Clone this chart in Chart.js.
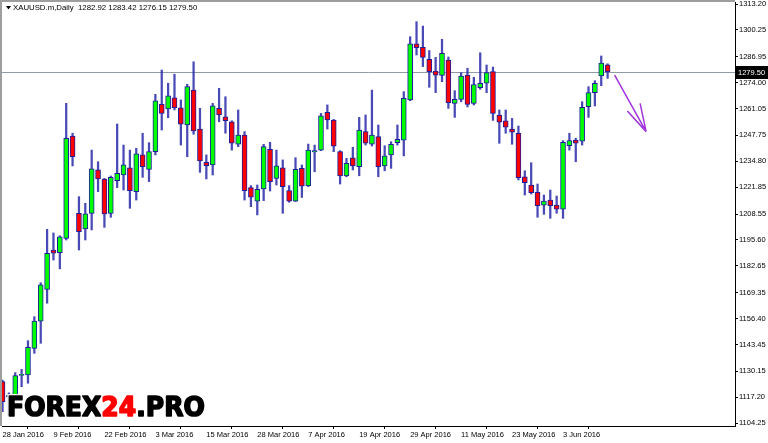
<!DOCTYPE html>
<html>
<head>
<meta charset="utf-8">
<script src="https://cdn.jsdelivr.net/npm/chart.js@4/dist/chart.umd.min.js"></script>
<style>
  html,body{margin:0;padding:0;background:#fff;}
  #wrap{width:768px;height:443px;position:relative;}
</style>
</head>
<body>
<div id="wrap"><canvas id="chart" width="768" height="443"></canvas></div>
<script>
// XAUUSD daily candles
const symbol = 'XAUUSD.m,Daily';
const opens  = [1125.0,1117.4,1115.9,1128.1,1128.3,1141.6,1155.2,1171.0,1190.6,1189.3,1196.4,1247.4,1208.9,1201.1,1208.9,1230.5,1226.0,1208.9,1225.1,1228.0,
                 1231.6,1219.7,1238.0,1230.8,1239.6,1263.2,1260.9,1266.5,1261.5,1252.9,1270.3,1250.9,1234.3,1233.0,1261.2,1257.0,1254.5,1243.4,1247.9,1221.7,
                 1215.0,1221.0,1240.8,1226.3,1231.6,1220.2,1215.0,1231.3,1222.5,1239.5,1240.4,1259.2,1255.4,1239.6,1227.5,1236.6,1232.1,1249.6,1243.3,1247.1,
                 1232.5,1238.0,1244.1,1245.4,1265.4,1293.3,1291.6,1285.6,1279.8,1277.6,1285.3,1263.7,1265.7,1277.8,1263.7,1271.5,1273.7,1279.5,1257.9,1255.0,
                 1250.9,1248.8,1227.1,1223.0,1219.4,1213.0,1215.5,1213.0,1210.9,1242.6,1245.4,1244.9,1262.0,1269.0,1277.3,1282.92];
const highs  = [1125.8,1119.4,1129.5,1131.1,1145.4,1157.4,1174.3,1200.9,1199.1,1197.7,1263.7,1248.8,1217.2,1213.9,1240.4,1234.6,1226.3,1227.5,1253.4,1242.9,
                 1240.4,1241.3,1248.8,1244.1,1268.2,1280.3,1273.7,1278.2,1265.4,1273.2,1284.4,1261.2,1238.0,1263.7,1271.2,1267.0,1255.0,1260.4,1249.6,1222.7,
                 1223.0,1243.3,1244.3,1240.4,1235.5,1222.7,1236.6,1233.0,1243.4,1242.9,1258.7,1262.9,1255.7,1240.1,1236.3,1241.8,1256.7,1257.9,1270.3,1252.9,
                 1242.6,1244.6,1252.9,1269.5,1296.9,1304.4,1302.2,1290.0,1286.6,1295.6,1286.8,1270.0,1279.0,1281.2,1276.7,1288.9,1282.8,1281.8,1260.4,1260.4,
                 1256.2,1252.4,1230.1,1234.1,1223.5,1218.0,1220.5,1217.5,1245.1,1248.8,1246.3,1264.5,1272.0,1275.0,1287.3,1283.42];
const lows   = [1110.0,1107.9,1113.9,1122.5,1124.2,1139.1,1144.1,1164.1,1185.6,1181.2,1195.6,1232.5,1190.6,1195.6,1200.6,1219.7,1201.9,1206.9,1221.7,1220.5,
                 1211.4,1215.5,1226.8,1224.7,1238.0,1250.4,1256.5,1260.4,1242.9,1237.1,1248.3,1229.3,1226.0,1228.0,1254.5,1248.8,1240.4,1242.1,1215.5,1212.2,
                 1208.1,1215.2,1220.0,1223.0,1208.9,1214.4,1214.7,1216.8,1222.2,1229.6,1240.1,1250.9,1239.6,1223.5,1227.1,1230.5,1227.6,1242.9,1242.4,1227.1,
                 1230.1,1231.3,1242.9,1237.5,1265.0,1287.8,1282.0,1271.7,1269.0,1274.5,1261.2,1256.7,1264.5,1261.9,1262.9,1270.7,1269.0,1255.2,1243.8,1248.8,
                 1243.3,1225.5,1218.0,1218.5,1206.9,1208.4,1206.4,1208.9,1206.4,1240.4,1234.6,1242.9,1256.7,1262.4,1272.5,1276.15];
const closes = [1114.9,1118.1,1128.0,1128.5,1142.1,1155.2,1173.2,1189.0,1189.0,1197.2,1246.3,1237.1,1199.7,1208.6,1231.0,1226.0,1208.6,1226.8,1228.8,1233.0,
                 1220.2,1238.5,1232.1,1239.6,1264.9,1258.7,1267.4,1261.5,1253.3,1272.0,1249.9,1235.0,1232.6,1262.4,1257.9,1255.0,1243.8,1247.9,1220.2,1216.9,
                 1220.9,1242.1,1224.7,1232.5,1222.2,1215.0,1230.8,1222.4,1240.4,1240.1,1257.5,1255.4,1242.4,1227.5,1233.8,1232.5,1250.4,1243.8,1247.9,1232.1,
                 1237.6,1243.3,1245.8,1266.2,1293.3,1291.5,1286.6,1279.5,1277.7,1288.6,1264.0,1265.7,1277.3,1263.2,1273.0,1273.7,1279.0,1258.7,1254.3,1251.8,
                 1249.3,1226.6,1224.2,1219.2,1212.7,1215.0,1212.7,1210.9,1244.3,1245.1,1243.8,1261.7,1269.0,1273.7,1283.7,1279.50];

// one date label every 8 bars
const dateLabels = ['28 Jan 2016','9 Feb 2016','22 Feb 2016','3 Mar 2016','15 Mar 2016','28 Mar 2016',
                    '7 Apr 2016','19 Apr 2016','29 Apr 2016','11 May 2016','23 May 2016','3 Jun 2016'];
const dateStep = 8;
const priceTicks = [1313.20,1300.25,1286.95,1274.00,1261.05,1247.75,1234.80,1221.85,1208.55,
                    1195.60,1182.65,1169.35,1156.40,1143.45,1130.15,1117.20,1104.25];

// hand drawn forecast arrow, in bar index / price
const arrowLine = [[96.1,1277.8],[101.05,1249.6]];
const arrowHead = [[98.1,1259.9],[100.1,1263.7]];

const bodies = opens.map((o,i)=>{
  let c = closes[i];
  if (Math.abs(c-o) < 0.6) c = o + (c>=o ? 0.6 : -0.6);
  return {x:i, y:[o,c]};
});
const wicks = highs.map((h,i)=>({x:i, y:[lows[i],h]}));
const bodyColors = opens.map((o,i)=> closes[i] >= o ? '#00ff00' : '#ff0000');
const lastClose = closes[closes.length-1];
const tickFont = '"Liberation Sans", Arial, sans-serif';

const mtPlugin = {
  id:'mt',
  beforeDatasetsDraw(chart){
    const {ctx, chartArea:a, scales:{y}} = chart;
    const py = Math.round(y.getPixelForValue(lastClose)) + 0.5;
    ctx.save();
    ctx.strokeStyle = '#8f9ba6';
    ctx.lineWidth = 1;
    ctx.beginPath(); ctx.moveTo(a.left, py); ctx.lineTo(a.right, py); ctx.stroke();
    ctx.restore();
  },
  afterDraw(chart){
    const {ctx, chartArea:a, scales:{x,y}} = chart;
    ctx.save();
    // frame
    ctx.fillStyle = '#9e9e9e';
    ctx.fillRect(0, 0, a.right, 2);
    ctx.fillRect(0, 0, 2, a.bottom);

    // arrow
    ctx.strokeStyle = '#a035dc';
    ctx.lineWidth = 1.5;
    const tip = [x.getPixelForValue(arrowLine[1][0]), y.getPixelForValue(arrowLine[1][1])];
    ctx.beginPath();
    ctx.moveTo(x.getPixelForValue(arrowLine[0][0]), y.getPixelForValue(arrowLine[0][1]));
    ctx.lineTo(tip[0], tip[1]);
    arrowHead.forEach(p=>{
      ctx.moveTo(x.getPixelForValue(p[0]), y.getPixelForValue(p[1]));
      ctx.lineTo(tip[0], tip[1]);
    });
    ctx.stroke();

    // current price label
    const py = Math.round(y.getPixelForValue(lastClose));
    ctx.fillStyle = '#000';
    ctx.fillRect(a.right, py-6, chart.width - a.right, 13);
    ctx.fillStyle = '#fff';
    ctx.font = '7.5px ' + tickFont;
    ctx.textBaseline = 'middle';
    ctx.fillText(lastClose.toFixed(2), a.right + 3, py + 0.5);

    // header
    ctx.fillStyle = '#000';
    ctx.beginPath();
    ctx.moveTo(6, 6); ctx.lineTo(11, 6); ctx.lineTo(8.5, 9.5); ctx.closePath(); ctx.fill();
    const n = opens.length-1;
    ctx.font = '7.8px ' + tickFont;
    ctx.fillText(symbol + '  ' + [opens[n],highs[n],lows[n],closes[n]].map(v=>v.toFixed(2)).join(' '), 13, 8);

    // watermark
    ctx.translate(7, 416);
    ctx.scale(0.93, 1);
    ctx.font = 'bold 27px "DejaVu Sans", sans-serif';
    ctx.textBaseline = 'alphabetic';
    ctx.lineJoin = 'round';
    let tx = 0;
    [['FOREX','#000'],['24','#ff0000'],['.PRO','#000']].forEach(([t,col])=>{
      ctx.strokeStyle = '#fff'; ctx.lineWidth = 4;
      ctx.strokeText(t, tx, 0);
      ctx.strokeStyle = col; ctx.lineWidth = 1.6;
      ctx.strokeText(t, tx, 0);
      ctx.fillStyle = col;
      ctx.fillText(t, tx, 0);
      tx += ctx.measureText(t).width;
    });
    ctx.restore();
  }
};

new Chart(document.getElementById('chart'), {
  type:'bar',
  data:{
    datasets:[
      {label:'wick', data:wicks, backgroundColor:'rgba(42,42,170,0.85)', barThickness:1.6, grouped:false, order:2},
      {label:'body', data:bodies, backgroundColor:bodyColors, borderColor:'#1e1e9c', borderWidth:1,
       borderSkipped:false, barThickness:5, grouped:false, order:1}
    ]
  },
  options:{
    responsive:false,
    animation:false,
    layout:{padding:{top:2,left:2,right:0,bottom:0}},
    plugins:{legend:{display:false}, tooltip:{enabled:false}},
    scales:{
      x:{
        type:'linear', offset:false, min:-0.08, max:115.0,
        grid:{drawOnChartArea:false, color:'#000', tickLength:3},
        border:{display:true, color:'#000'},
        afterBuildTicks(s){ s.ticks = dateLabels.map((_,k)=>({value:k*dateStep})); },
        afterFit(s){ s.height = 17; s.paddingLeft = 0; s.paddingRight = 0; },
        ticks:{autoSkip:false, maxRotation:0, align:'start', padding:1, color:'#000',
               font:{family:tickFont, size:7.5},
               callback:(v)=> dateLabels[Math.round(v/dateStep)] || ''}
      },
      y:{
        position:'right', min:1102.9, max:1314.2,
        grid:{drawOnChartArea:false, color:'#000', tickLength:3},
        border:{display:true, color:'#000'},
        afterBuildTicks(s){ s.ticks = priceTicks.map(v=>({value:v})); },
        afterFit(s){ s.width = 33; s.paddingTop = 0; s.paddingBottom = 0; },
        ticks:{padding:1, color:'#000',
               font:{family:tickFont, size:7.5},
               callback:(v)=> Number(v).toFixed(2)}
      }
    }
  },
  plugins:[mtPlugin]
});
</script>
</body>
</html>
